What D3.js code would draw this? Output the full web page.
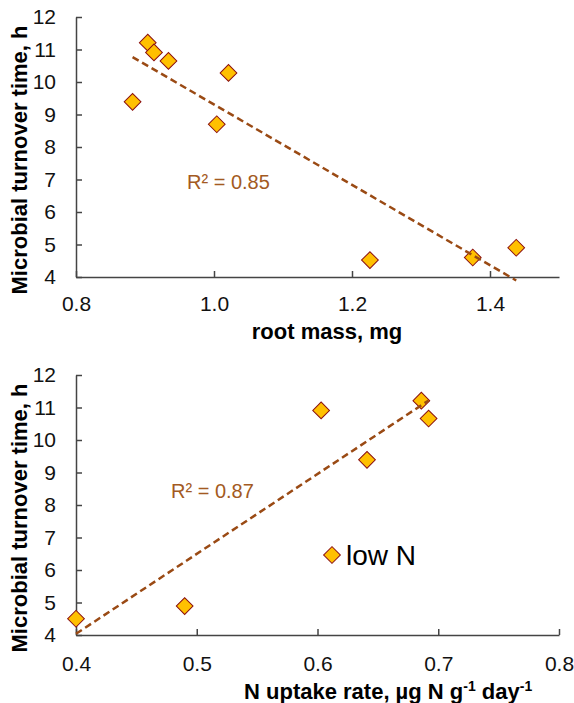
<!DOCTYPE html>
<html lang="en">
<head>
<meta charset="utf-8">
<title>Microbial turnover time</title>
<script src="https://cdn.jsdelivr.net/npm/d3@7"></script>
<style>
  body { margin: 0; background: #fff; }
  svg { display: block; font-family: Arial, "Liberation Sans", sans-serif; }
  .axis path, .axis line { stroke: #444; stroke-width: 1.5; }
  .axis text { font-size: 21px; fill: #111; }
</style>
</head>
<body>
<svg id="chart" width="574" height="703"></svg>
<script>
// top panel: root mass vs turnover time
var rootMass    = [0.882, 0.904, 0.913, 0.934, 1.021, 1.004, 1.226, 1.375, 1.438];
var turnoverTop = [9.39, 11.21, 10.91, 10.65, 10.28, 8.70, 4.52, 4.60, 4.90];

// bottom panel: N uptake rate vs turnover time
var nUptake        = [0.400, 0.490, 0.603, 0.641, 0.686, 0.692];
var turnoverBottom = [4.50, 4.89, 10.91, 9.39, 11.21, 10.66];

var yTicks       = [4, 5, 6, 7, 8, 9, 10, 11, 12];
var topXTicks    = [0.8, 1.0, 1.2, 1.4];
var bottomXTicks = [0.4, 0.5, 0.6, 0.7, 0.8];
var legendLabel  = "low N";
var yTitle       = "Microbial turnover time, h";

var svg = d3.select("#chart");
var marker = d3.symbol().type(d3.symbolSquare).size(140);

// least squares fit, returns slope, intercept and r2
function fit(xs, ys) {
  var mx = d3.mean(xs), my = d3.mean(ys);
  var sxy = 0, sxx = 0, syy = 0;
  xs.forEach(function(x, i) {
    sxy += (x - mx) * (ys[i] - my);
    sxx += (x - mx) * (x - mx);
    syy += (ys[i] - my) * (ys[i] - my);
  });
  var b = sxy / sxx;
  return { b: b, a: my - b * mx, r2: sxy * sxy / (sxx * syy) };
}

function panel(p) {
  var x = d3.scaleLinear().domain(p.xDomain).range([76, 559]);
  var y = d3.scaleLinear().domain([4, 12]).range(p.yRange);
  var g = svg.append("g");

  g.append("g").attr("class", "axis")
    .attr("transform", "translate(0," + p.yRange[0] + ")")
    .call(d3.axisBottom(x).tickValues(p.xTicks).tickFormat(d3.format(".1f"))
      .tickSizeInner(-6).tickSizeOuter(0).tickPadding(p.xPad));

  g.append("g").attr("class", "axis")
    .attr("transform", "translate(76,0)")
    .call(d3.axisLeft(y).tickValues(yTicks).tickSizeInner(-6).tickSizeOuter(0).tickPadding(20));

  g.selectAll(".axis .domain").attr("stroke", "#444");

  // y title
  g.append("text")
    .attr("transform", "translate(27," + p.yTitleY + ") rotate(-90)")
    .attr("text-anchor", "middle")
    .style("font-size", "22px").style("font-weight", "bold")
    .text(yTitle);

  // points
  g.selectAll(".pt").data(p.xs).enter().append("path")
    .attr("class", "pt")
    .attr("d", marker)
    .attr("transform", function(d, i) {
      return "translate(" + x(d) + "," + y(p.ys[i]) + ") rotate(45)";
    })
    .attr("fill", "#ffc000").attr("stroke", "#8b1010").attr("stroke-width", 1);

  // trend line
  var f = fit(p.xs, p.ys);
  var ext = d3.extent(p.xs);
  g.append("line")
    .attr("x1", x(ext[0])).attr("y1", y(f.a + f.b * ext[0]))
    .attr("x2", x(ext[1])).attr("y2", y(f.a + f.b * ext[1]))
    .attr("stroke", "#9a4a14").attr("stroke-width", 2.5)
    .attr("stroke-dasharray", "7,4");

  g.append("text")
    .attr("x", p.r2Pos[0]).attr("y", p.r2Pos[1])
    .attr("fill", "#a35a22").style("font-size", "20px")
    .text("R\u00b2 = " + d3.format(".2f")(f.r2));

  return g;
}

panel({ xs: rootMass, ys: turnoverTop, xDomain: [0.8, 1.5], xTicks: topXTicks,
        yRange: [277, 17], xPad: 19, yTitleY: 160, r2Pos: [187, 189] });

var bottom = panel({ xs: nUptake, ys: turnoverBottom, xDomain: [0.4, 0.8], xTicks: bottomXTicks,
        yRange: [635, 375], xPad: 21, yTitleY: 518, r2Pos: [171, 498] });

// x titles
svg.append("text")
  .attr("x", 327).attr("y", 339)
  .attr("text-anchor", "middle")
  .style("font-size", "22px").style("font-weight", "bold")
  .text("root mass, mg");

var xt = svg.append("text")
  .attr("x", 244).attr("y", 699)
  .style("font-size", "22px").style("font-weight", "bold");
xt.append("tspan").text("N uptake rate, \u00b5g N g");
xt.append("tspan").attr("dy", -8).style("font-size", "14px").text("-1");
xt.append("tspan").attr("dy", 8).text(" day");
xt.append("tspan").attr("dy", -8).style("font-size", "14px").text("-1");

// legend
bottom.append("path")
  .attr("d", marker)
  .attr("transform", "translate(332,555) rotate(45)")
  .attr("fill", "#ffc000").attr("stroke", "#8b1010").attr("stroke-width", 1);
bottom.append("text")
  .attr("x", 346).attr("y", 565)
  .style("font-size", "28px")
  .text(legendLabel);
</script>
</body>
</html>
